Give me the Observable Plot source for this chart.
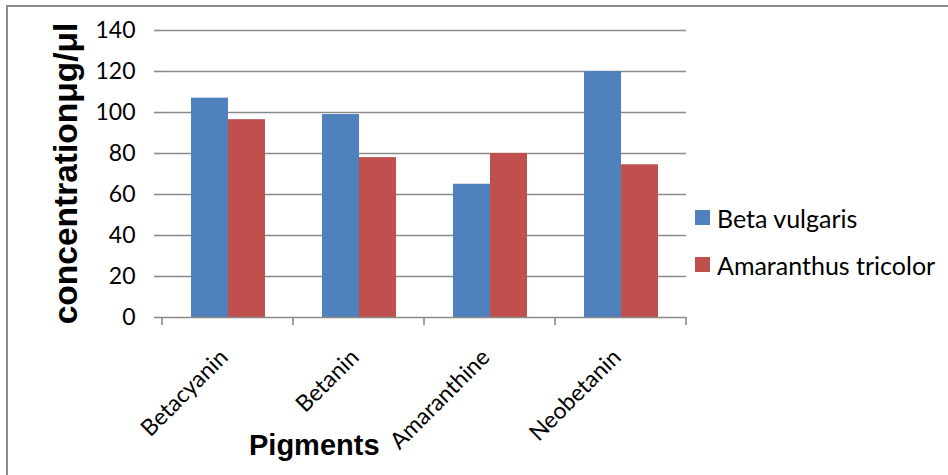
<!DOCTYPE html>
<html>
<head>
<meta charset="utf-8">
<script src="https://cdn.jsdelivr.net/npm/d3@7"></script>
<script src="https://cdn.jsdelivr.net/npm/@observablehq/plot@0.6"></script>
<style>
  body { margin: 0; background: #fff; }
  #fig { position: relative; width: 948px; height: 475px; overflow: hidden; font-family: Lato, sans-serif; }
  #fig svg { position: absolute; left: 0; top: 0; }
  #border { position: absolute; left: 6px; top: 5px; width: 2000px; height: 2000px;
            border-left: 2px solid #8c8c8c; border-top: 2px solid #8c8c8c; }
  #legend { position: absolute; left: 695px; top: 194px; font-size: 25px; color: #000; }
  #legend .row { display: flex; align-items: center; height: 47px; }
  #legend .sw { width: 15px; height: 15px; margin-right: 7px; }
</style>
</head>
<body>
<div id="fig"><div id="border"></div></div>
<script>
// Pigment concentrations (µg/µl) for the two plant species
const pigments = ["Betacyanin", "Betanin", "Amaranthine", "Neobetanin"];
const species = ["Beta vulgaris", "Amaranthus tricolor"];
const betaVulgaris = [107, 99, 65, 120];
const amaranthusTricolor = [96.5, 78, 80, 74.5];
const yTicks = [0, 20, 40, 60, 80, 100, 120, 140];
const colors = ["#4F81BD", "#C0504D"];

const rows = pigments.flatMap((p, i) => [
  {pigment: p, species: species[0], value: betaVulgaris[i]},
  {pigment: p, species: species[1], value: amaranthusTricolor[i]}
]);

const grid = "#8a8a8a";

const chart = Plot.plot({
  width: 948,
  height: 475,
  marginLeft: 162,
  marginRight: 262,
  marginTop: 30,
  marginBottom: 158,
  style: {fontFamily: "Lato, sans-serif", background: "transparent", overflow: "visible"},
  fx: {domain: pigments, padding: 0, label: null},
  x: {domain: species, paddingInner: 0, paddingOuter: 0.76, axis: null},
  y: {domain: [0, 140], label: null},
  color: {domain: species, range: colors},
  marks: [
    Plot.ruleY(yTicks.slice(1), {stroke: grid, strokeWidth: 1.6}),
    Plot.barY(rows, {fx: "pigment", x: "species", y: "value", fill: "species", inset: 0}),
    Plot.ruleY([0], {stroke: grid, strokeWidth: 1.6}),
    Plot.axisY({ticks: yTicks, tickSize: 8, tickPadding: 19, fontSize: 23, line: true,
                label: null, stroke: grid, strokeWidth: 1.6, fill: "#000"}),
    Plot.axisFx({anchor: "bottom", tickSize: 0, tickRotate: -45, tickPadding: 36, dx: -4,
                 fontSize: 23, label: null, fill: "#000"})
  ]
});

document.getElementById("fig").appendChild(chart);

// Category tick marks on the category boundaries, plus axis titles
const svg = d3.select(chart);
const fx = chart.scale("fx");
const y = chart.scale("y");
const y0 = y.apply(0);
const bounds = pigments.map(p => fx.apply(p));
bounds.push(fx.apply(pigments[pigments.length - 1]) + fx.bandwidth);
svg.append("g")
  .attr("stroke", grid).attr("stroke-width", 1.6)
  .selectAll("line").data(bounds).join("line")
  .attr("x1", d => d).attr("x2", d => d)
  .attr("y1", y0).attr("y2", y0 + 8);

const yMid = (y.apply(0) + y.apply(140)) / 2;
svg.append("text")
  .attr("transform", `translate(77,${yMid}) rotate(-90)`)
  .attr("text-anchor", "middle")
  .attr("font-family", "Liberation Sans, Arial, sans-serif")
  .attr("font-weight", "bold").attr("font-size", 33.5).attr("fill", "#000")
  .text("concentrationμg/μl");

svg.append("text")
  .attr("x", 249).attr("y", 455)
  .attr("text-anchor", "start")
  .attr("font-family", "Liberation Sans, Arial, sans-serif")
  .attr("font-weight", "bold").attr("font-size", 29).attr("fill", "#000")
  .text("Pigments");

// Legend built from the color scale
const color = chart.scale("color");
const legend = d3.select("#fig").append("div").attr("id", "legend");
const row = legend.selectAll(".row").data(color.domain).join("div").attr("class", "row");
row.append("div").attr("class", "sw").style("background", d => color.apply(d));
row.append("span").text(d => d);
</script>
</body>
</html>
